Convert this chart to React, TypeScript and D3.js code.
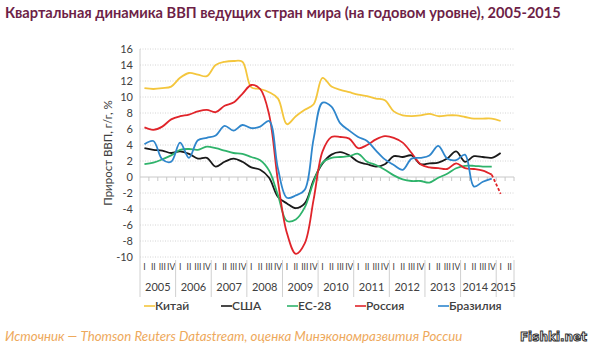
import React from "react";
import * as d3 from "d3";

// quarters 2005Q1 .. 2015Q2
const years = [2005, 2006, 2007, 2008, 2009, 2010, 2011, 2012, 2013, 2014, 2015];
const quarterNames = ["I", "II", "III", "IV"];
const yTicks = [-10, -8, -6, -4, -2, 0, 2, 4, 6, 8, 10, 12, 14, 16];

const china = [11.1, 11.0, 11.1, 11.3, 12.4, 13.0, 12.8, 12.6, 14.0, 14.4, 14.5, 14.4, 11.2, 11.0, 10.6, 9.8, 6.6, 7.6, 8.4, 9.1, 12.4, 11.3, 10.9, 10.6, 10.3, 10.1, 9.8, 9.6, 8.2, 7.7, 7.6, 7.7, 7.9, 7.6, 7.7, 7.7, 7.5, 7.3, 7.3, 7.3, 7.0];
const usa = [3.6, 3.4, 3.3, 3.0, 3.2, 2.9, 2.3, 2.4, 1.3, 1.9, 2.3, 1.9, 1.2, 0.9, -0.1, -2.5, -3.3, -3.9, -3.3, -0.4, 1.7, 2.8, 3.1, 2.7, 1.9, 1.6, 1.3, 1.6, 2.6, 2.5, 2.7, 1.6, 1.7, 1.8, 2.3, 3.2, 1.9, 2.6, 2.5, 2.4, 3.0];
const eu = [1.6, 1.8, 2.2, 2.7, 3.4, 3.5, 3.4, 3.8, 3.6, 3.3, 3.0, 2.9, 2.5, 2.1, 0.8, -2.3, -5.5, -5.3, -3.8, -0.6, 1.8, 2.4, 2.5, 2.6, 2.9, 1.9, 1.5, 0.9, 0.2, -0.3, -0.5, -0.5, -0.7, -0.1, 0.4, 1.1, 1.4, 1.4, 1.3, 1.3];
const russia = [6.2, 5.9, 6.3, 7.2, 7.6, 7.8, 8.2, 8.4, 8.1, 8.9, 9.3, 10.4, 11.5, 11.0, 7.8, -0.6, -7.0, -9.6, -8.3, -2.8, 3.2, 5.0, 5.0, 4.8, 3.6, 4.0, 4.7, 5.1, 4.9, 4.3, 3.0, 1.6, 1.2, 1.1, 1.0, 1.7, 1.1, 1.0, 0.8, 0.3];
const russiaEstimate = [0.3, -2.1]; // 2014Q4 -> 2015Q1, dashed
const brazil = [4.1, 4.5, 2.2, 1.9, 4.3, 2.4, 4.6, 4.9, 5.2, 6.4, 5.8, 6.5, 6.1, 6.3, 7.0, 1.0, -2.6, -2.3, -1.6, 4.8, 9.3, 8.8, 6.7, 5.8, 5.0, 4.5, 3.3, 2.2, 1.5, 0.9, 2.3, 2.4, 2.7, 3.9, 2.3, 2.1, 2.8, -1.2, -0.6, -0.2];

const series = [
  { name: "Китай", values: china, color: "#f4c63d" },
  { name: "США", values: usa, color: "#1a1a1a" },
  { name: "ЕС-28", values: eu, color: "#2fb36b" },
  { name: "Россия", values: russia, color: "#e0242a" },
  { name: "Бразилия", values: brazil, color: "#2f86cc" },
];
const legendX = [144, 221, 287, 355, 438];

const W = 593, H = 354;
const left = 140, right = 514, top = 49, bottom = 257;
const font = "Lato, 'Open Sans', sans-serif";

export default function App() {
  const nq = years.length * 4 - 2;
  const quarters = d3.range(nq);
  const x = d3.scaleBand<number>().domain(quarters).range([left, right]);
  const cx = (i: number) => (x(i) as number) + x.bandwidth() / 2;
  const y = d3.scaleLinear().domain([-10, 16]).range([bottom, top]);
  const line = d3
    .line<number>()
    .x((_, i) => cx(i))
    .y((d) => y(d))
    .curve(d3.curveCatmullRom.alpha(0.5));
  const dashed = d3
    .line<number>()
    .x((_, i) => cx(russia.length - 1 + i))
    .y((d) => y(d))
    .curve(d3.curveLinear);

  return (
    <svg width={W} height={H} style={{ position: "absolute", left: 0, top: 0, background: "#fff" }}>
      <text x={5} y={18} fontFamily={font} fontWeight="bold" fontSize={14.6} fill="#6e1f47">
        Квартальная динамика ВВП ведущих стран мира (на годовом уровне), 2005-2015
      </text>

      {yTicks.filter((t) => t !== 0).map((t) => (
        <line key={t} x1={left} x2={right} y1={y(t)} y2={y(t)} stroke="#d4d4d4" strokeDasharray="1,1.5" />
      ))}
      {yTicks.map((t) => (
        <text key={"l" + t} x={133} y={y(t) + 4} textAnchor="end" fontFamily={font} fontSize={11} fill="#404040">
          {t}
        </text>
      ))}
      <text
        transform={`translate(112,${(top + bottom) / 2}) rotate(-90)`}
        textAnchor="middle"
        fontFamily={font}
        fontSize={11.5}
        fill="#404040"
      >
        Прирост ВВП, г/г, %
      </text>

      <line x1={left} x2={left} y1={top} y2={297} stroke="#d0d0d0" />
      <line x1={left} x2={right} y1={y(0)} y2={y(0)} stroke="#c8c8c8" />
      {quarters.map((q) => (
        <line key={"t" + q} x1={(x(q) as number) + x.bandwidth()} x2={(x(q) as number) + x.bandwidth()} y1={y(0)} y2={y(0) + 4} stroke="#c8c8c8" />
      ))}

      {quarters.map((q) => (
        <text key={"q" + q} x={cx(q)} y={270} textAnchor="middle" fontFamily={font} fontSize={8.5} fill="#404040">
          {quarterNames[q % 4]}
        </text>
      ))}
      {years.map((yr, k) => {
        const x0 = x(k * 4) as number;
        const last = Math.min(k * 4 + 3, nq - 1);
        const x1 = (x(last) as number) + x.bandwidth();
        const isLast = k === years.length - 1;
        return (
          <g key={yr}>
            <line x1={x1} x2={x1} y1={260} y2={297} stroke="#d0d0d0" />
            <text
              x={isLast ? x1 + 2 : (x0 + x1) / 2 - (k === years.length - 2 ? 3 : 0)}
              y={291}
              textAnchor={isLast ? "end" : "middle"}
              fontFamily={font}
              fontSize={11}
              fill="#404040"
            >
              {yr}
            </text>
          </g>
        );
      })}

      {series.map((s) => (
        <path key={s.name} d={line(s.values) || ""} fill="none" stroke={s.color} strokeWidth={1.8} />
      ))}
      <path d={dashed(russiaEstimate) || ""} fill="none" stroke="#e0242a" strokeWidth={1.8} strokeDasharray="3,2" />

      {series.map((s, k) => (
        <g key={"lg" + s.name}>
          <line x1={legendX[k]} x2={legendX[k] + 11} y1={306} y2={306} stroke={s.color} strokeWidth={1.6} />
          <text x={legendX[k] + 11} y={310} fontFamily={font} fontWeight={600} fontSize={12} fill="#404040">
            {s.name}
          </text>
        </g>
      ))}

      <text x={5} y={341} fontFamily={font} fontStyle="italic" fontSize={13.3} fill="#eea95c">
        Источник — Thomson Reuters Datastream, оценка Минэкономразвития России
      </text>
      <text x={587} y={341} textAnchor="end" fontFamily="'DejaVu Sans', sans-serif" fontWeight="bold" fontSize={12} fill="#fff" stroke="#333" strokeWidth={1}>
        Fishki.net
      </text>
    </svg>
  );
}
